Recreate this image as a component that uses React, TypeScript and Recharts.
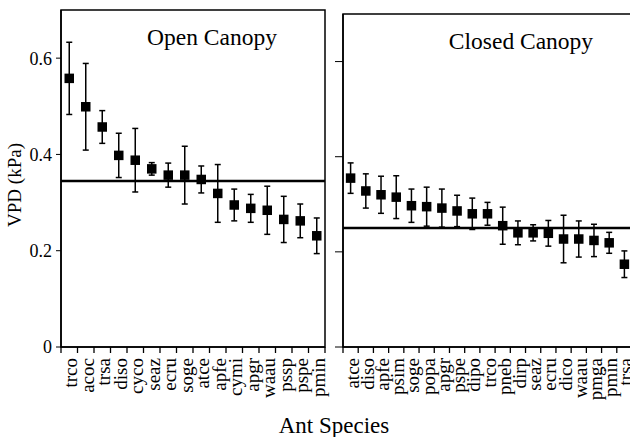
import React from "react";
import { ComposedChart, Line, XAxis, YAxis, ErrorBar, ReferenceLine, ReferenceArea } from "recharts";

const openSpecies = ["trco", "acoc", "trsa", "diso", "cyco", "seaz", "ecru", "soge", "atce", "apfe", "cymi", "apgr", "waau", "pssp", "pspe", "pmin"];
const openVpd = [0.558, 0.499, 0.457, 0.398, 0.388, 0.37, 0.357, 0.357, 0.348, 0.319, 0.295, 0.288, 0.284, 0.265, 0.262, 0.231];
const openErr = [0.075, 0.09, 0.034, 0.046, 0.066, 0.013, 0.025, 0.06, 0.028, 0.06, 0.033, 0.029, 0.05, 0.048, 0.035, 0.037];
const openMean = 0.345;

const closedSpecies = ["atce", "diso", "apfe", "psim", "soge", "popa", "apgr", "pspe", "dipo", "trco", "pneb", "dirp", "seaz", "ecru", "dico", "waau", "pmga", "pmin", "trsa"];
const closedVpd = [0.355, 0.328, 0.32, 0.315, 0.297, 0.295, 0.292, 0.286, 0.28, 0.28, 0.255, 0.24, 0.24, 0.239, 0.227, 0.227, 0.224, 0.219, 0.174];
const closedErr = [0.032, 0.036, 0.039, 0.045, 0.035, 0.041, 0.04, 0.033, 0.033, 0.024, 0.039, 0.025, 0.017, 0.027, 0.05, 0.038, 0.034, 0.022, 0.028];
const closedMean = 0.25;

const yTicks = [0, 0.2, 0.4, 0.6];
const FONT = "'Liberation Serif', 'Times New Roman', serif";

// tick sits on a band boundary; the species name goes half a band to the right
function SpeciesTick(props: any) {
  const { x, y, payload, band, names } = props;
  const name = names[payload.value];
  if (name == null) return <g />;
  const tx = Number(x) + band / 2 + 8;
  const ty = Number(y) + 5;
  return (
    <text x={tx} y={ty} transform={`rotate(-90 ${tx} ${ty})`} textAnchor="end" fontSize={19} fontFamily={FONT} fill="#000">
      {name}
    </text>
  );
}

const Square = (p: any) => {
  if (p.cx == null || p.cy == null) return <g key={p.index} />;
  return <rect key={p.index} x={p.cx - 4.75} y={p.cy - 4.75} width={9.5} height={9.5} fill="#000" />;
};

interface PanelProps {
  species: string[];
  vpd: number[];
  err: number[];
  mean: number;
  width: number;
  yWidth: number;
  top: number;
  right: number;
  showLabels: boolean;
}

function Panel({ species, vpd, err, mean, width, yWidth, top, right, showLabels }: PanelProps) {
  const n = species.length;
  const data = species.map((sp, i) => ({ sp, pos: i + 0.5, v: vpd[i], e: err[i] }));
  const bounds = Array.from({ length: n + 1 }, (_, i) => i);
  const band = (width - yWidth - right) / n;
  const axisLine = { stroke: "#000", strokeWidth: 1.5 };
  return (
    <ComposedChart width={width} height={437} data={data} margin={{ top, right, bottom: 0, left: 0 }}>
      <XAxis
        dataKey="pos"
        type="number"
        domain={[0, n]}
        ticks={bounds}
        height={90}
        interval={0}
        axisLine={axisLine}
        tickLine={{ stroke: "#000", strokeWidth: 1.3 }}
        tickSize={6}
        tickMargin={0}
        tick={(p: any) => <SpeciesTick {...p} band={band} names={species} />}
      />
      <YAxis
        domain={[0, 0.7]}
        ticks={yTicks}
        width={yWidth}
        allowDataOverflow
        axisLine={axisLine}
        tickLine={{ stroke: "#000", strokeWidth: 1 }}
        tickSize={showLabels ? 5 : 8}
        tickMargin={4}
        tick={{ fontSize: 18, fontFamily: FONT, fill: "#000" }}
        tickFormatter={(v: number) => (!showLabels ? "" : v === 0 ? "0" : v.toFixed(1))}
      />
      <ReferenceArea y1={0} y2={0.7} fill="none" stroke="#000" strokeWidth={1.5} ifOverflow="visible" />
      <ReferenceLine y={mean} stroke="#000" strokeWidth={2.5} />
      <Line dataKey="v" stroke="none" dot={Square} activeDot={false} isAnimationActive={false}>
        <ErrorBar dataKey="e" direction="y" width={3} stroke="#000" strokeWidth={1.5} />
      </Line>
    </ComposedChart>
  );
}

export default function App() {
  return (
    <div style={{ position: "absolute", left: 0, top: 0, width: 630, height: 437, background: "#fff", overflow: "hidden" }}>
      <div style={{ position: "absolute", left: 0, top: 0 }}>
        <Panel species={openSpecies} vpd={openVpd} err={openErr} mean={openMean} width={330} yWidth={61} top={10} right={5} showLabels />
      </div>
      <div style={{ position: "absolute", left: 330, top: 0 }}>
        <Panel species={closedSpecies} vpd={closedVpd} err={closedErr} mean={closedMean} width={304} yWidth={13} top={14} right={2} showLabels={false} />
      </div>
      <svg width={630} height={437} style={{ position: "absolute", left: 0, top: 0, pointerEvents: "none" }}>
        <text x={212} y={45} textAnchor="middle" fontSize={23.5} fontFamily={FONT} fill="#000">Open Canopy</text>
        <text x={521} y={49} textAnchor="middle" fontSize={23.5} fontFamily={FONT} fill="#000">Closed Canopy</text>
        <text x={334} y={433} textAnchor="middle" fontSize={23} fontFamily={FONT} fill="#000">Ant Species</text>
        <text x={21} y={185} transform="rotate(-90 21 185)" textAnchor="middle" fontSize={19} fontFamily={FONT} fill="#000">VPD (kPa)</text>
      </svg>
    </div>
  );
}
